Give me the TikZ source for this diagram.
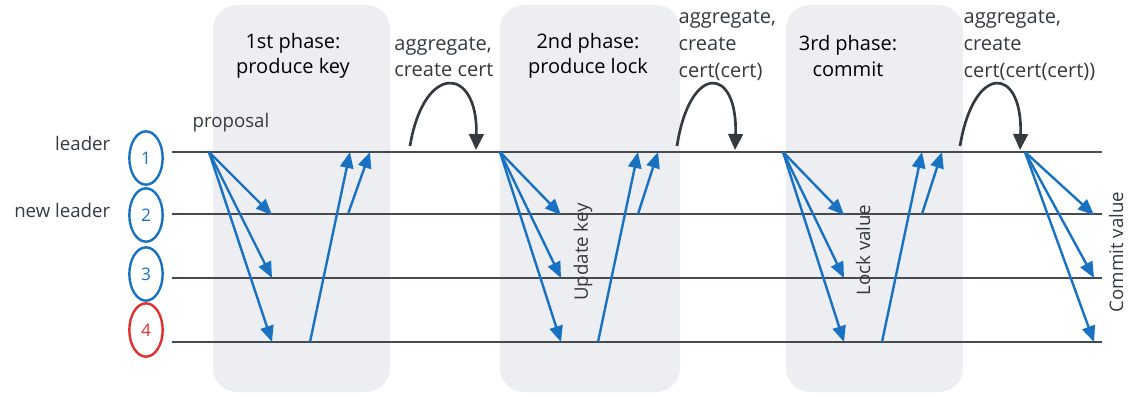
\documentclass[tikz,border=0pt]{standalone}
\usepackage{fontspec}
\setmainfont{Open Sans}
\usetikzlibrary{arrows.meta,shapes.geometric}
\definecolor{phasebg}{HTML}{ECEEF1}
\definecolor{lanecol}{HTML}{454B51}
\definecolor{msgblue}{HTML}{1971C2}
\definecolor{faultred}{HTML}{E03131}
\definecolor{inkgray}{HTML}{343A40}
\tikzset{
  phasebox/.style={fill=phasebg, rounded corners=18pt, draw=none},
  lane/.style={draw=lanecol, line width=2.2pt},
  msg/.style={draw=msgblue, line width=1.8pt, -{Triangle[length=12pt,width=10pt]}},
  loopback/.style={draw=inkgray, line width=2pt, -{Triangle[length=12pt,width=11pt]}},
  replica/.style={ellipse, draw, line width=1.8pt, minimum width=25pt, minimum height=40pt, inner sep=0pt, font=\fontsize{13}{15}\selectfont},
  title/.style={align=center, text=black, font=\fontsize{15}{19}\selectfont},
  note/.style={align=left, text=inkgray, font=\fontsize{15}{20}\selectfont},
  sidenote/.style={text=inkgray, font=\fontsize{14}{16}\selectfont},
}
\begin{document}
\begin{tikzpicture}[x=0.75pt,y=-0.75pt]
\useasboundingbox (0,0) rectangle (1133,397);

% phase backgrounds
\fill[phasebox] (213,5) rectangle (390,392);
\fill[phasebox] (500,5) rectangle (680,392);
\fill[phasebox] (786,5) rectangle (963,392);

% lanes, one per replica
\foreach \i/\y in {1/152,2/214,3/278,4/342}{
  \coordinate (la\i) at (172,\y);
  \coordinate (lb\i) at (1102,\y);
  \draw[lane] (la\i) -- (lb\i);
}

% replicas
\node[replica, draw=msgblue, text=msgblue] (r1) at (146,158) {1};
\node[replica, draw=msgblue, text=msgblue] (r2) at (146,215) {2};
\node[replica, draw=msgblue, text=msgblue] (r3) at (146,274) {3};
\node[replica, draw=faultred, text=faultred] (r4) at (146,330) {4};
\node[sidenote, anchor=east] (lead) at (115,143) {leader};
\node[sidenote, anchor=east] (nlead) at (115,210) {new leader};

% headings
\node[title] (p1) at (293,56) {1st phase:\\produce key};
\node[title] (p2) at (588,56) {2nd phase:\\produce lock};
\node[title] (p3) at (848,56) {3rd phase:\\commit};
\node[note] (a1) at (444,57) {aggregate,\\create cert};
\node[note, anchor=north west] (a2) at (674,6) {aggregate,\\create\\cert(cert)};
\node[note, anchor=north west] (a3) at (959,6) {aggregate,\\create\\cert(cert(cert))};
\node[sidenote] (prop) at (231,123) {proposal};

% phase 1
\coordinate (s1) at (209,152);
\coordinate (t12) at (272,215);
\coordinate (t13) at (272,278);
\coordinate (t14) at (272,342);
\coordinate (u14) at (310,342);
\coordinate (v14) at (350,152);
\coordinate (u12) at (348,214);
\coordinate (v12) at (370,152);
\draw[msg] (s1) -- (t12);
\draw[msg] (s1) -- (t13);
\draw[msg] (s1) -- (t14);
\draw[msg] (u14) -- (v14);
\draw[msg] (u12) -- (v12);

% aggregation after phase 1
\coordinate (g1s) at (410,146);
\coordinate (g1e) at (476,150);
\draw[loopback] (g1s) .. controls (424,62) and (478,66) .. (g1e);

% phase 2
\coordinate (s2) at (500,152);
\coordinate (t22) at (561,215);
\coordinate (t23) at (561,278);
\coordinate (t24) at (561,342);
\coordinate (u24) at (598,342);
\coordinate (v24) at (638,152);
\coordinate (u22) at (638,214);
\coordinate (v22) at (658,152);
\draw[msg] (s2) -- (t22);
\draw[msg] (s2) -- (t23);
\draw[msg] (s2) -- (t24);
\draw[msg] (u24) -- (v24);
\draw[msg] (u22) -- (v22);
\node[sidenote, rotate=90] (upd) at (583,252) {Update key};

% aggregation after phase 2
\coordinate (g2s) at (677,146);
\coordinate (g2e) at (735,150);
\draw[loopback] (g2s) .. controls (690,62) and (738,66) .. (g2e);

% phase 3
\coordinate (s3) at (783,152);
\coordinate (t32) at (844,215);
\coordinate (t33) at (844,278);
\coordinate (t34) at (844,342);
\coordinate (u34) at (882,342);
\coordinate (v34) at (922,152);
\coordinate (u32) at (922,214);
\coordinate (v32) at (942,152);
\draw[msg] (s3) -- (t32);
\draw[msg] (s3) -- (t33);
\draw[msg] (s3) -- (t34);
\draw[msg] (u34) -- (v34);
\draw[msg] (u32) -- (v32);
\node[sidenote, rotate=90] (lck) at (863,250) {Lock value};

% aggregation after phase 3
\coordinate (g3s) at (960,146);
\coordinate (g3e) at (1020,150);
\draw[loopback] (g3s) .. controls (974,62) and (1023,66) .. (g3e);

% commit broadcast
\coordinate (s4) at (1025,152);
\coordinate (t42) at (1094,215);
\coordinate (t43) at (1094,278);
\coordinate (t44) at (1094,342);
\draw[msg] (s4) -- (t42);
\draw[msg] (s4) -- (t43);
\draw[msg] (s4) -- (t44);
\node[sidenote, rotate=90] (cmt) at (1116,252) {Commit value};
\end{tikzpicture}
\end{document}
